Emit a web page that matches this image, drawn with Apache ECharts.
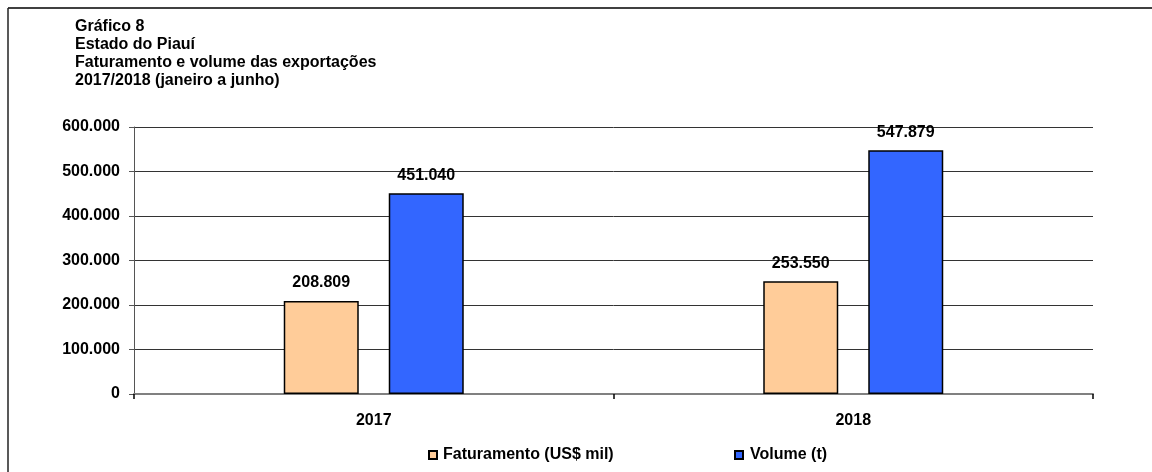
<!DOCTYPE html>
<html>
<head>
<meta charset="utf-8">
<script src="https://cdn.jsdelivr.net/npm/echarts@6/dist/echarts.min.js"></script>
<style>
  html, body { margin: 0; padding: 0; background: #ffffff; }
  #chart { width: 1152px; height: 472px; }
</style>
</head>
<body>
<div id="chart"></div>
<script>
// Export revenue and volume for Piauí, Jan–Jun
const titleLines = [
  'Gráfico 8',
  'Estado do Piauí',
  'Faturamento e volume das exportações',
  '2017/2018 (janeiro a junho)'
];
const years = ['2017', '2018'];
const faturamento = [208809, 253550];   // US$ mil
const volume = [451040, 547879];        // toneladas
const seriesNames = ['Faturamento (US$ mil)', 'Volume (t)'];

const FONT = 'Liberation Sans, Arial, Helvetica, sans-serif';
const FS = 16;

// Brazilian thousands separator: 451040 -> "451.040"
function fmt(v) {
  return String(Math.round(v)).replace(/\B(?=(\d{3})+(?!\d))/g, '.');
}

const chart = echarts.init(document.getElementById('chart'), null, { renderer: 'canvas' });

const labelStyle = {
  show: true,
  position: 'top',
  distance: 10,
  color: '#000',
  fontFamily: FONT,
  fontWeight: 'bold',
  fontSize: FS,
  formatter: p => fmt(p.value)
};

const legendText = { fontFamily: FONT, fontWeight: 'bold', fontSize: FS, color: '#000' };

chart.setOption({
  backgroundColor: '#ffffff',
  animation: false,
  title: {
    text: titleLines.join('\n'),
    left: 70,
    top: 12,
    textStyle: {
      fontFamily: FONT,
      fontWeight: 'bold',
      fontSize: FS,
      color: '#000',
      lineHeight: 18.3
    }
  },
  graphic: [
    // frame: top and left edges
    { type: 'line', shape: { x1: 8, y1: 8, x2: 1152, y2: 8 }, style: { stroke: '#000', lineWidth: 1.5 } },
    { type: 'line', shape: { x1: 8, y1: 8, x2: 8, y2: 472 }, style: { stroke: '#222', lineWidth: 1.5 } }
  ],
  legend: [
    {
      data: [seriesNames[0]],
      left: 423, top: 442,
      icon: 'rect', itemWidth: 8, itemHeight: 8, itemGap: 6,
      textStyle: Object.assign({ padding: [0, 0, 0, 1] }, legendText)
    },
    {
      data: [seriesNames[1]],
      left: 729, top: 442,
      icon: 'rect', itemWidth: 8, itemHeight: 8, itemGap: 6,
      textStyle: Object.assign({ padding: [0, 0, 0, 2] }, legendText)
    }
  ],
  grid: { left: 134, right: 59, top: 127, bottom: 78, containLabel: false },
  xAxis: {
    type: 'category',
    data: years,
    boundaryGap: true,
    axisLine: { show: true, lineStyle: { color: '#808080', width: 2 } },
    axisTick: { show: true, length: 5, lineStyle: { color: '#000', width: 1.5 } },
    axisLabel: { margin: 19, color: '#000', fontFamily: FONT, fontWeight: 'bold', fontSize: FS },
    splitLine: { show: false }
  },
  yAxis: {
    type: 'value',
    min: 0,
    max: 600000,
    interval: 100000,
    axisLine: { show: true, lineStyle: { color: '#555', width: 1 } },
    axisTick: { show: true, length: 5, lineStyle: { color: '#555' } },
    axisLabel: {
      margin: 14, color: '#000', fontFamily: FONT, fontWeight: 'bold', fontSize: FS,
      formatter: v => fmt(v)
    },
    splitLine: { show: true, lineStyle: { color: '#333', width: 1 } }
  },
  series: [
    {
      name: seriesNames[0],
      type: 'bar',
      data: faturamento,
      barWidth: 75,
      barGap: '40%',
      itemStyle: { color: '#FFCC99', borderColor: '#000', borderWidth: 1.5 },
      label: labelStyle
    },
    {
      name: seriesNames[1],
      type: 'bar',
      data: volume,
      barWidth: 75,
      barGap: '40%',
      itemStyle: { color: '#3366FF', borderColor: '#000', borderWidth: 1.5 },
      label: labelStyle
    }
  ]
});
</script>
</body>
</html>
